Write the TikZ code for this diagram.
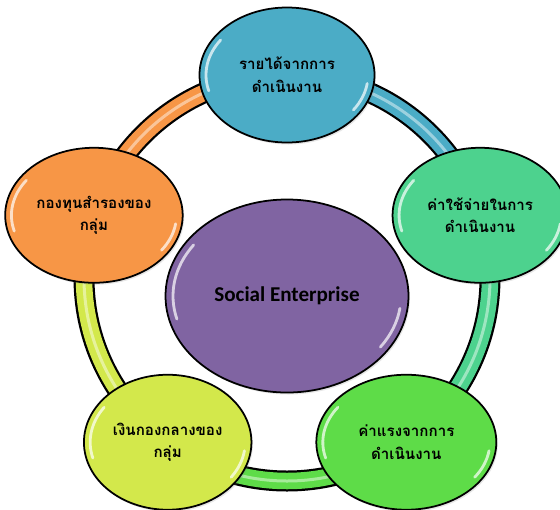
\documentclass[tikz,border=0pt]{standalone}
\usepackage{fontspec}
\setmainfont{Carlito}
\newfontfamily\thai[Script=Thai]{Loma}
\usetikzlibrary{shapes.geometric,backgrounds,shadows,calc}

\definecolor{topc}{HTML}{4BACC6}
\definecolor{rightc}{HTML}{4DD28E}
\definecolor{brc}{HTML}{5EDC48}
\definecolor{blc}{HTML}{D3E84B}
\definecolor{leftc}{HTML}{F79646}
\definecolor{midc}{HTML}{8064A2}

\tikzset{
  bubble/.style={ellipse, draw=black, line width=1pt, inner sep=0pt,
    minimum width=3.5cm, minimum height=2.7cm, align=center,
    font=\thai\bfseries\fontsize{8.6}{13}\selectfont,
    drop shadow={opacity=0.2, shadow xshift=0.03cm, shadow yshift=-0.04cm}},
  band/.style={line width=0.42cm, black},
  fillband/.style={line width=0.33cm},
  shine/.style={line width=0.06cm, white, opacity=0.45}
}

% white gloss on an ellipse: node, x radius, y radius
\def\gloss#1#2#3{%
  \draw[white, line width=1.6pt, opacity=0.7, line cap=round]
    ($(#1.center)+(145:#2 and #3)$) arc[start angle=145, end angle=195, x radius=#2, y radius=#3];
  \draw[white, line width=1.6pt, opacity=0.7, line cap=round]
    ($(#1.center)+(-8:#2 and #3)$) arc[start angle=-8, end angle=-35, x radius=#2, y radius=#3];
}

\begin{document}
\begin{tikzpicture}
\useasboundingbox (0,0) rectangle (11.2,-10.18);
\begin{scope}[shift={(5.74,-5.56)}]
\node[bubble, fill=topc] (income) at (90:4.06) {รายได้จากการ\\ดำเนินงาน};
\node[bubble, fill=rightc] (expense) at (18:4.06) {ค่าใช้จ่ายในการ\\ดำเนินงาน};
\node[bubble, fill=brc, minimum width=3.6cm] (wage) at (-54:4.06) {ค่าแรงจากการ\\ดำเนินงาน};
\node[bubble, fill=blc, minimum width=3.35cm] (common) at (-126:4.06) {เงินกองกลางของ\\กลุ่ม};
\node[bubble, fill=leftc, minimum width=3.55cm] (reserve) at (162:4.06) {กองทุนสำรองของ\\กลุ่ม};
\node[bubble, fill=midc, minimum width=4.86cm, minimum height=3.86cm,
  font=\bfseries\fontsize{12}{15}\selectfont] (se) at (0,-0.36) {Social Enterprise};

% ring
\begin{scope}[on background layer]
\draw[band] (income.center) arc[start angle=90, end angle=-270, radius=4.06];
\draw[fillband, topc] (income.center) arc[start angle=90, end angle=18, radius=4.06];
\draw[fillband, rightc] (expense.center) arc[start angle=18, end angle=-54, radius=4.06];
\draw[fillband, brc] (wage.center) arc[start angle=-54, end angle=-126, radius=4.06];
\draw[fillband, blc] (common.center) arc[start angle=-126, end angle=-198, radius=4.06];
\draw[fillband, leftc] (reserve.center) arc[start angle=162, end angle=90, radius=4.06];
\draw[shine] (income.center) arc[start angle=90, end angle=-270, radius=4.06];
\end{scope}

\gloss{income}{1.62}{1.22}
\gloss{expense}{1.62}{1.22}
\gloss{wage}{1.67}{1.22}
\gloss{common}{1.55}{1.22}
\gloss{reserve}{1.65}{1.22}
\gloss{se}{2.28}{1.78}
\end{scope}
\end{tikzpicture}
\end{document}
